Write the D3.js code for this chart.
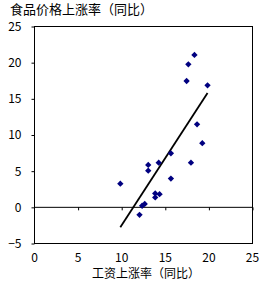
<!DOCTYPE html>
<html>
<head>
<meta charset="utf-8">
<script src="https://cdn.jsdelivr.net/npm/d3@7"></script>
<style>
  body { margin: 0; background: #fff; }
  svg { display: block; }
</style>
</head>
<body>
<svg id="chart"></svg>
<script>
// wage growth (x) vs food price growth (y), % yoy
const wageGrowth = [18.4, 17.7, 17.5, 19.9, 18.7, 19.3, 15.7, 18.0, 13.1, 13.1, 14.3, 15.7, 9.9, 13.9, 14.4, 13.9, 12.7, 12.4, 12.1];
const foodPriceGrowth = [21.0, 19.7, 17.4, 16.8, 11.4, 8.8, 7.4, 6.1, 5.8, 5.0, 6.1, 3.9, 3.2, 1.85, 1.75, 1.3, 0.4, 0.15, -1.1];
const xTicks = [0, 5, 10, 15, 20, 25];
const yTicks = [-5, 0, 5, 10, 15, 20, 25];
const yTitle = '食品价格上涨率（同比）';
const xTitle = '工资上涨率（同比）';

const width = 262, height = 286;
const font = '"Noto Sans CJK SC", "Noto Sans", sans-serif';

const svg = d3.select('#chart').attr('width', width).attr('height', height);

const x = d3.scaleLinear().domain([0, 25]).range([34, 252]);
const y = d3.scaleLinear().domain([-5, 25]).range([243, 26]);

const points = wageGrowth.map((v, i) => ({ x: v, y: foodPriceGrowth[i] }));

// plot frame
svg.append('rect')
    .attr('x', x(0) + 0.5).attr('y', y(25) + 0.5)
    .attr('width', x(25) - x(0)).attr('height', y(-5) - y(25))
    .attr('fill', 'none').attr('stroke', '#000').attr('stroke-width', 1);

// y axis
svg.append('g')
    .attr('transform', `translate(${x(0) + 0.5},0.5)`)
    .call(d3.axisLeft(y).tickValues(yTicks).tickSize(3).tickPadding(10).tickFormat(d3.format('d')))
    .call(g => g.select('.domain').remove())
    .call(g => g.selectAll('line').attr('stroke', '#000'))
    .call(g => g.selectAll('text').attr('font-size', 12).attr('font-family', font).attr('fill', '#000'));

// zero line with ticks
svg.append('g')
    .attr('transform', `translate(0.5,${y(0) + 0.5})`)
    .call(d3.axisBottom(x).tickValues(xTicks.slice(1)).tickSize(3).tickFormat('').tickSizeOuter(0))
    .call(g => g.select('.domain').attr('stroke', '#000').attr('d', `M${x(0)},0H${x(25)}`))
    .call(g => g.selectAll('line').attr('stroke', '#000'));

// x tick labels at the bottom
svg.append('g')
    .attr('transform', `translate(0,${y(-5)})`)
    .call(d3.axisBottom(x).tickValues(xTicks).tickSize(0).tickPadding(10).tickFormat(d3.format('d')))
    .call(g => g.select('.domain').remove())
    .call(g => g.selectAll('text').attr('font-size', 12).attr('font-family', font).attr('fill', '#000'));

// least squares trend line over the data range
const mx = d3.mean(points, d => d.x), my = d3.mean(points, d => d.y);
const slope = d3.sum(points, d => (d.x - mx) * (d.y - my)) / d3.sum(points, d => (d.x - mx) ** 2);
const icpt = my - slope * mx;
const [x0, x1] = d3.extent(points, d => d.x);
svg.append('line')
    .attr('x1', x(x0)).attr('y1', y(icpt + slope * x0))
    .attr('x2', x(x1)).attr('y2', y(icpt + slope * x1))
    .attr('stroke', '#000').attr('stroke-width', 1.8);

// markers
svg.append('g')
    .selectAll('path')
    .data(points)
    .join('path')
    .attr('transform', d => `translate(${x(d.x)},${y(d.y)}) rotate(45)`)
    .attr('d', d3.symbol(d3.symbolSquare, 20))
    .attr('fill', '#000080');

// titles
svg.append('text')
    .attr('x', 10).attr('y', 14)
    .attr('font-size', 13).attr('font-family', font).attr('fill', '#000')
    .text(yTitle);

svg.append('text')
    .attr('x', (x(0) + x(25)) / 2 + 3).attr('y', 278)
    .attr('text-anchor', 'middle')
    .attr('font-size', 12).attr('font-family', font).attr('fill', '#000')
    .text(xTitle);
</script>
</body>
</html>
